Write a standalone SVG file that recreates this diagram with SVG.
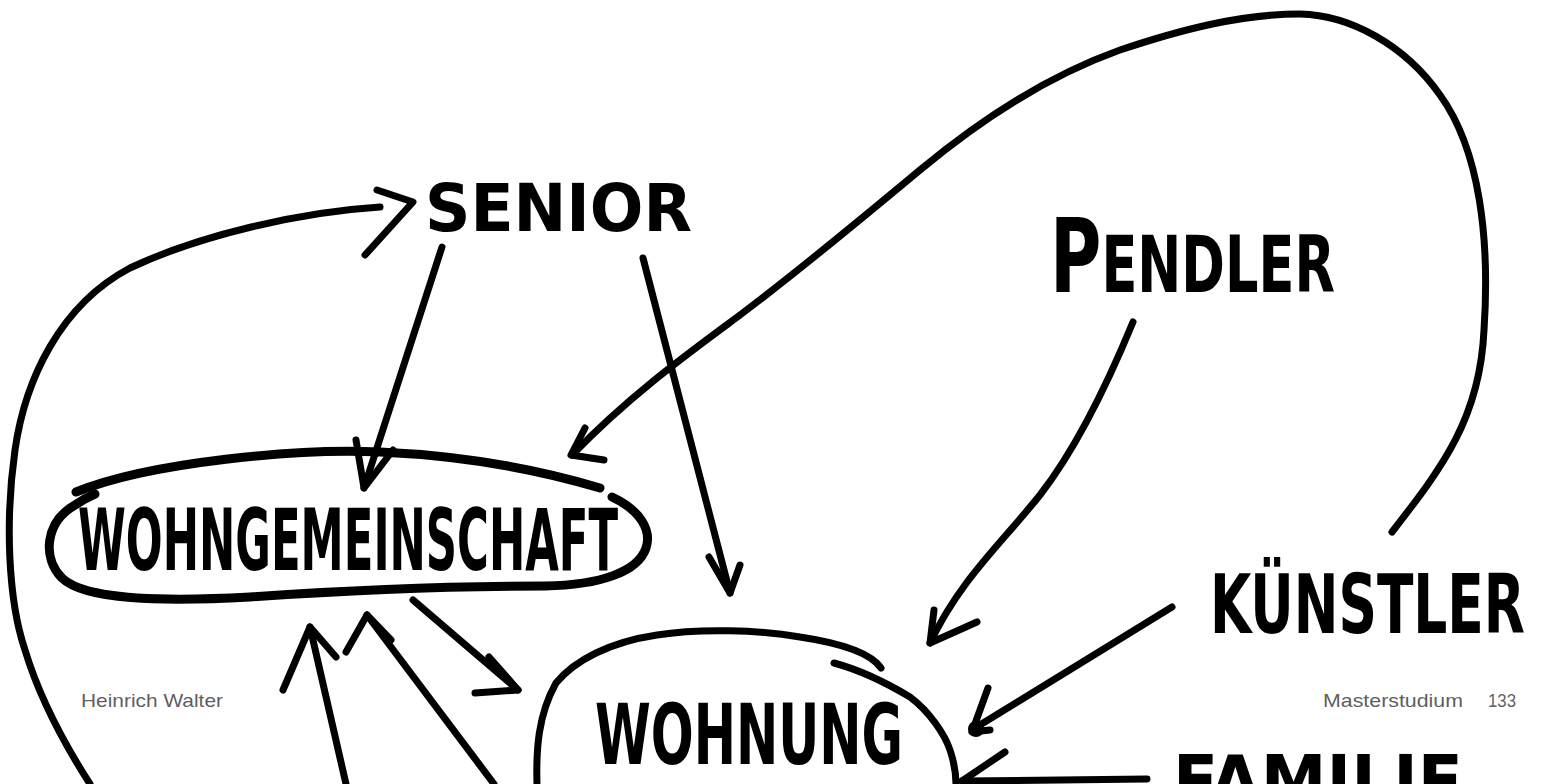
<svg xmlns="http://www.w3.org/2000/svg" width="1543" height="784" viewBox="0 0 1543 784">
  <style>
    .ink { fill: none; stroke: #000; stroke-width: 7; stroke-linecap: round; stroke-linejoin: round; }
    .thick { stroke-width: 9; }
    .hand { font-family: "DejaVu Sans Condensed", "DejaVu Sans", "Liberation Sans", sans-serif; font-weight: bold; fill: #000; }
    .foot { font-family: "Liberation Sans", "DejaVu Sans", sans-serif; font-size: 19px; fill: #5f5f5f; }
  </style>
  <rect x="0" y="0" width="1543" height="784" fill="#fff"/>

  <g id="connectors">
    <!-- left loop to SENIOR -->
    <path class="ink" d="M380,207 C 300,212 200,235 130,268 C 60,305 25,380 15,450 C 5,520 8,600 25,650 C 40,700 65,745 90,784"/>
    <path class="ink" d="M377,190 L 413,202 L 365,255"/>
    <!-- SENIOR -> WG -->
    <path class="ink" d="M442,247 L 364,488"/>
    <path class="ink" d="M356,440 L 364,488 L 393,450"/>
    <!-- SENIOR -> WOHNUNG -->
    <path class="ink" d="M643,258 L 730,593"/>
    <path class="ink" d="M709,557 L 730,593 L 740,565"/>
    <!-- big loop KUENSTLER -> WG -->
    <path class="ink" d="M1392,532 C 1440,470 1480,420 1484,330 C 1490,240 1480,150 1440,95 C 1405,45 1350,15 1300,14 C 1240,14 1180,30 1120,50 C 1050,75 980,120 920,170 C 860,220 800,270 740,315 C 690,352 630,395 572,455"/>
    <path class="ink" d="M585,428 L 571,455 L 604,460"/>
    <!-- WG -> WOHNUNG -->
    <path class="ink" d="M413,600 L 518,690"/>
    <path class="ink" d="M489,657 L 518,690 L 475,693"/>
    <!-- up arrows to WG -->
    <path class="ink" d="M346,784 L 310,627"/>
    <path class="ink" d="M283,690 L 310,627 L 336,657"/>
    <path class="ink" d="M494,784 L 367,615"/>
    <path class="ink" d="M346,652 L 367,615 L 391,640"/>
    <!-- PENDLER -> WOHNUNG -->
    <path class="ink" d="M1133,322 C 1105,390 1075,450 1040,495 C 1000,545 960,580 930,643"/>
    <path class="ink" d="M934,610 L 930,643 L 977,622"/>
    <!-- KUENSTLER -> WOHNUNG -->
    <path class="ink" d="M1172,607 L 975,728"/>
    <path class="ink" d="M988,688 L 972,732 L 990,730"/>
    <circle cx="976" cy="729" r="8" fill="#000"/>
    <!-- FAMILIE -> WOHNUNG -->
    <path class="ink" d="M1147,779 L 962,781"/>
    <path class="ink" d="M1005,752 L 962,781"/>
  </g>

  <g id="node-senior">
    <text class="hand" x="425" y="231" font-size="66" textLength="267" lengthAdjust="spacingAndGlyphs">SENIOR</text>
  </g>

  <g id="node-pendler">
    <text class="hand" transform="translate(1050,292) scale(1,1.3)" x="0" y="0" font-size="60" textLength="285" lengthAdjust="spacingAndGlyphs"><tspan font-size="80">P</tspan>ENDLER</text>
  </g>

  <g id="node-wg">
    <path class="ink thick" d="M76,492 C 150,462 300,448 380,452 C 470,456 540,470 600,488"/>
    <path class="ink thick" d="M612,497 C 640,510 652,530 646,548 C 638,572 600,585 545,586 C 450,586 350,590 250,597 C 160,602 85,600 62,578 C 42,558 45,522 75,505 C 82,500 88,497 95,494"/>
    <text class="hand" transform="translate(78,570) scale(1,1.7)" x="0" y="0" font-size="50" textLength="540" lengthAdjust="spacingAndGlyphs">WOHNGEMEINSCHAFT</text>
  </g>

  <g id="node-wohnung">
    <path class="ink" d="M537,784 C 536,750 538,715 556,683 C 575,660 610,642 657,635 C 700,628 760,630 800,637 C 840,643 870,652 881,668"/>
    <path class="ink" d="M834,663 C 860,670 890,685 910,697 C 930,712 945,735 950,750 C 955,765 956,775 956,784"/>
    <text class="hand" transform="translate(595,764) scale(1,1.5)" x="0" y="0" font-size="56" textLength="308" lengthAdjust="spacingAndGlyphs">WOHNUNG</text>
  </g>

  <g id="node-kuenstler">
    <text class="hand" transform="translate(1210,633) scale(1,1.36)" x="0" y="0" font-size="60" textLength="315" lengthAdjust="spacingAndGlyphs">KÜNSTLER</text>
  </g>

  <g id="node-familie">
    <text class="hand" x="1173" y="806" font-size="72" textLength="290" lengthAdjust="spacingAndGlyphs">FAMILIE</text>
  </g>

  <g id="footer">
    <text class="foot" x="81" y="707" textLength="142" lengthAdjust="spacingAndGlyphs">Heinrich Walter</text>
    <text class="foot" x="1323" y="707" textLength="140" lengthAdjust="spacingAndGlyphs">Masterstudium</text>
    <text class="foot" x="1488" y="707" textLength="28" lengthAdjust="spacingAndGlyphs">133</text>
  </g>
</svg>
